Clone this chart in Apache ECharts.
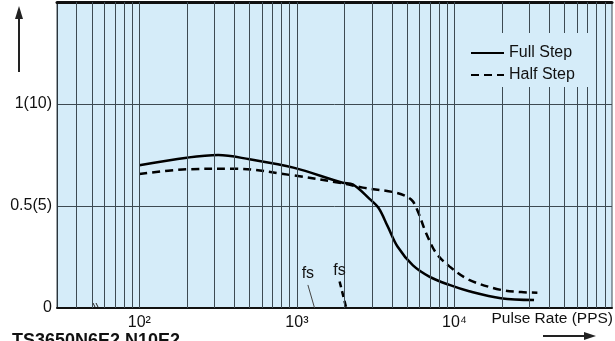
<!DOCTYPE html>
<html>
<head>
<meta charset="utf-8">
<script src="https://cdn.jsdelivr.net/npm/echarts@6/dist/echarts.min.js"></script>
<style>
html,body{margin:0;padding:0;background:#fff;}
#c{width:615px;height:341px;}
</style>
</head>
<body>
<div id="c"></div>
<script>
// ---- data ----
var fullX = [100, 200, 316, 500, 950, 1950, 2260, 2890, 3300, 3770, 4360, 5430, 6920, 9290, 12400, 19700, 32000];
var fullY = [0.70, 0.737, 0.75, 0.729, 0.688, 0.614, 0.606, 0.535, 0.49, 0.40, 0.30, 0.21, 0.154, 0.113, 0.082, 0.048, 0.039];
var halfX = [100, 200, 400, 950, 1950, 2620, 4260, 5310, 5850, 6600, 7640, 9290, 12400, 19700, 26500, 33600];
var halfY = [0.657, 0.680, 0.683, 0.650, 0.611, 0.59, 0.565, 0.532, 0.474, 0.368, 0.27, 0.204, 0.138, 0.089, 0.078, 0.075];
var fsFullX = [1174, 1294];
var fsFullY = [0.113, 0.0];
var fsHalfX = [1866, 2057];
var fsHalfY = [0.13, 0.0];
var gridX = [40,50,60,70,80,90,100,200,300,400,500,600,700,800,900,1000,2000,3000,4000,5000,6000,7000,8000,9000,10000,20000,30000,40000,50000,60000,70000,80000,90000];
var yTicks = {"0": "0", "0.5": "0.5(5)", "1": "1(10)"};
var xTicks = {"2": "10\u00B2", "3": "10\u00B3", "4": "10\u2074"};
var seriesNames = ["Full Step", "Half Step"];
var xAxisName = "Pulse Rate (PPS)";
var title = "TS3650N6E2 N10E2";

function pairs(xs, ys){ return xs.map(function(x,i){ return [x, ys[i]]; }); }

var FONT = '"Liberation Sans", Arial, Helvetica, sans-serif';
var chart = echarts.init(document.getElementById('c'), null, {renderer:'canvas'});

var option = {
  animation: false,
  grid: {left:57, right:2, top:2, bottom:33, show:true, backgroundColor:'#d5ecf9', borderColor:'#3d4a52', borderWidth:1},
  xAxis: [{
    type:'log', logBase:10, min:30, max:100000,
    axisLine:{show:true, onZero:false, lineStyle:{color:'#111', width:2}},
    axisTick:{show:false}, splitLine:{show:false}, minorSplitLine:{show:false},
    axisLabel:{show:true, margin:7, color:'#111', fontSize:16, fontFamily:FONT,
      showMinLabel:true, showMaxLabel:true,
      formatter:function(v){ var k = Math.round(Math.log(v)/Math.LN10); return (Math.abs(Math.pow(10,k)-v) < 1e-6*v && xTicks[k]) ? xTicks[k] : ''; }}
  },{
    type:'log', logBase:10, min:30, max:100000, position:'top',
    axisLine:{show:true, onZero:false, lineStyle:{color:'#111', width:3}},
    axisTick:{show:false}, axisLabel:{show:false}, splitLine:{show:false}
  }],
  yAxis: {
    type:'value', min:0, max:1.5, interval:0.5,
    axisLine:{show:true, lineStyle:{color:'#2a353c', width:1}},
    axisTick:{show:false},
    splitLine:{show:true, lineStyle:{color:'#3d4a52', width:1}},
    axisLabel:{margin:5, color:'#111', fontSize:16, fontFamily:FONT,
      formatter:function(v){ var key = String(Math.round(v*10)/10); return yTicks[key] || ''; }}
  },
  legend: {
    data: seriesNames, orient:'vertical', left:465, top:33, z:10,
    padding:[12,18,4,5], itemGap:6, itemWidth:33, itemHeight:14,
    backgroundColor:'#d5ecf9',
    itemStyle:{opacity:0},
    textStyle:{color:'#111', fontSize:16, fontFamily:FONT}
  },
  series: [
    {type:'line', name:'grid', data:[], silent:true, z:1,
      markLine:{silent:true, symbol:['none','none'], label:{show:false},
        lineStyle:{color:'#3d4a52', width:1, type:'solid'},
        data: gridX.map(function(v){ return {xAxis:v}; })}},
    {type:'line', name:seriesNames[0], data:pairs(fullX, fullY), symbol:'none', smooth:0.35, z:3,
      lineStyle:{color:'#000', width:2.5, type:'solid'}, itemStyle:{color:'#000'}},
    {type:'line', name:seriesNames[1], data:pairs(halfX, halfY), symbol:'none', smooth:0.35, z:3,
      lineStyle:{color:'#000', width:2.5, type:[8,5]}, itemStyle:{color:'#000'}},
    {type:'line', name:'fsFull', data:pairs(fsFullX, fsFullY), symbol:'none', z:3,
      lineStyle:{color:'#444', width:1},
      markPoint:{symbol:'circle', symbolSize:1, itemStyle:{color:'rgba(0,0,0,0)'},
        label:{show:true, position:'top', distance:3, formatter:'fs', color:'#111', fontSize:16, fontFamily:FONT},
        data:[{coord:[fsFullX[0], fsFullY[0]]}]}},
    {type:'line', name:'fsHalf', data:pairs(fsHalfX, fsHalfY), symbol:'none', z:3,
      lineStyle:{color:'#000', width:2.5, type:[6,4]},
      markPoint:{symbol:'circle', symbolSize:1, itemStyle:{color:'rgba(0,0,0,0)'},
        label:{show:true, position:'top', distance:2, formatter:'fs', color:'#111', fontSize:16, fontFamily:FONT},
        data:[{coord:[fsHalfX[0], fsHalfY[0]]}]}}
  ],
  graphic: [
    {type:'text', right:2, top:311, style:{text:xAxisName, fill:'#111', font:'15.5px '+FONT}},
    {type:'text', left:12, top:332, style:{text:title, fill:'#111', font:'bold 18px '+FONT}},
    {type:'line', shape:{x1:19, y1:72, x2:19, y2:16}, style:{stroke:'#222', lineWidth:2}},
    {type:'polygon', shape:{points:[[19,6],[15,19],[23,19]]}, style:{fill:'#222'}},
    {type:'line', shape:{x1:543, y1:336, x2:586, y2:336}, style:{stroke:'#222', lineWidth:2}},
    {type:'polygon', shape:{points:[[596,336],[584,332],[584,340]]}, style:{fill:'#222'}},
    {type:'line', shape:{x1:93, y1:303, x2:96, y2:309}, style:{stroke:'#222', lineWidth:1}},
    {type:'line', shape:{x1:96, y1:303, x2:99, y2:309}, style:{stroke:'#222', lineWidth:1}}
  ]
};
chart.setOption(option);
</script>
</body>
</html>
